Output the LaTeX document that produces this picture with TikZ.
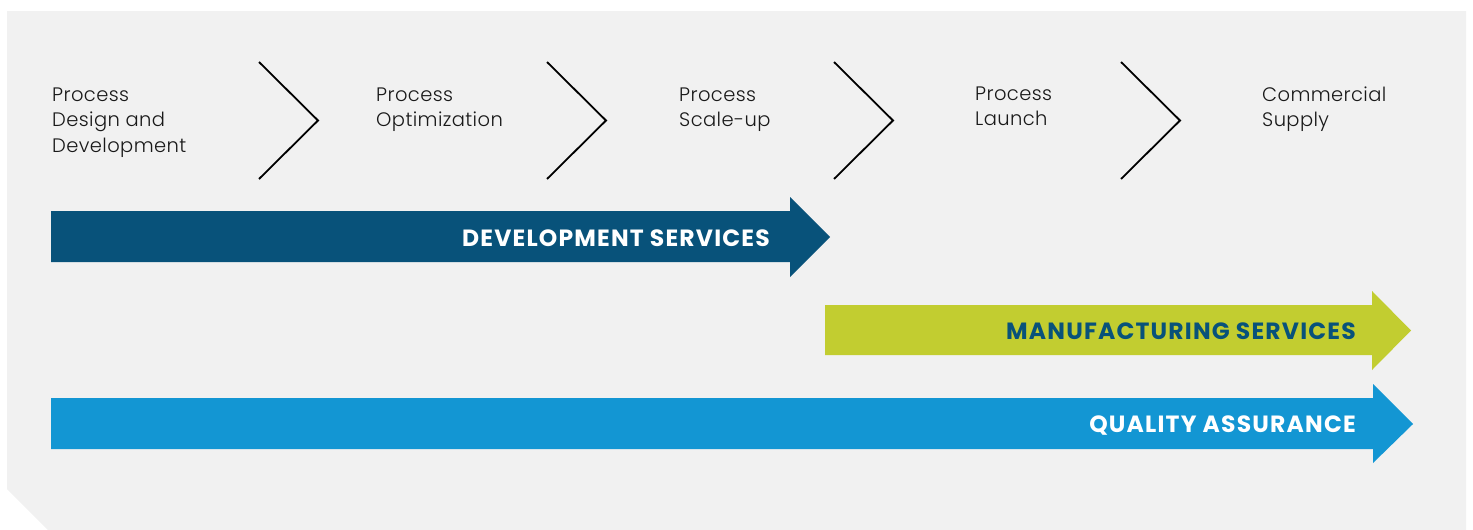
\documentclass[tikz,border=0pt]{standalone}
\usepackage{fontspec}
\setmainfont{Poppins}
\newfontfamily\lightfont{Poppins Light}[LetterSpace=2]
\newfontfamily\boldfont{Poppins Bold}[LetterSpace=5]
\begin{document}
\begin{tikzpicture}[x=1pt,y=-1pt,
  stage/.style={anchor=west,align=left,inner sep=0pt,font=\lightfont\fontsize{19.5}{25.5}\selectfont,text=black!90},
  chev/.style={draw=black,line width=1.8pt},
  band/.style={anchor=east,inner sep=0pt,font=\boldfont\fontsize{23.5}{26}\selectfont}]
\definecolor{bggrey}{HTML}{F1F1F1}
\definecolor{devblue}{HTML}{08527A}
\definecolor{mfggreen}{HTML}{C2CD30}
\definecolor{qablue}{HTML}{1396D3}
\useasboundingbox (0,0) rectangle (1473,530);
\fill[bggrey] (7,11) -- (1466,11) -- (1466,530) -- (48,530) -- (7,489) -- cycle;
% stage labels
\node[stage] (s1) at (52,122.5) {Process\\Design and\\Development};
\node[stage] (s2) at (376,109.5) {Process\\Optimization};
\node[stage] (s3) at (679,109.5) {Process\\Scale-up};
\node[stage] (s4) at (975,106.5) {Process\\Launch};
\node[stage] (s5) at (1262,109) {Commercial\\Supply};
% chevrons
\draw[chev] (259,62) -- (318,120.5) -- (259,179);
\draw[chev] (547,62) -- (606,120.5) -- (547,179);
\draw[chev] (834,62) -- (893,120.5) -- (834,179);
\draw[chev] (1121,62) -- (1180,120.5) -- (1121,179);
% arrows
\fill[devblue] (51,211) -- (790,211) -- (790,197) -- (830,237) -- (790,277) -- (790,262) -- (51,262) -- cycle;
\node[band,text=white] (dev) at (770,238.5) {DEVELOPMENT SERVICES};
\fill[mfggreen] (825,305) -- (1372,305) -- (1372,291) -- (1411,330.5) -- (1372,370) -- (1372,355) -- (825,355) -- cycle;
\node[band,text=devblue] (mfg) at (1356,331) {MANUFACTURING SERVICES};
\fill[qablue] (51,398) -- (1373,398) -- (1373,384) -- (1413,424) -- (1373,463) -- (1373,449) -- (51,449) -- cycle;
\node[band,text=white] (qa) at (1356,426) {QUALITY ASSURANCE};
\end{tikzpicture}
\end{document}
